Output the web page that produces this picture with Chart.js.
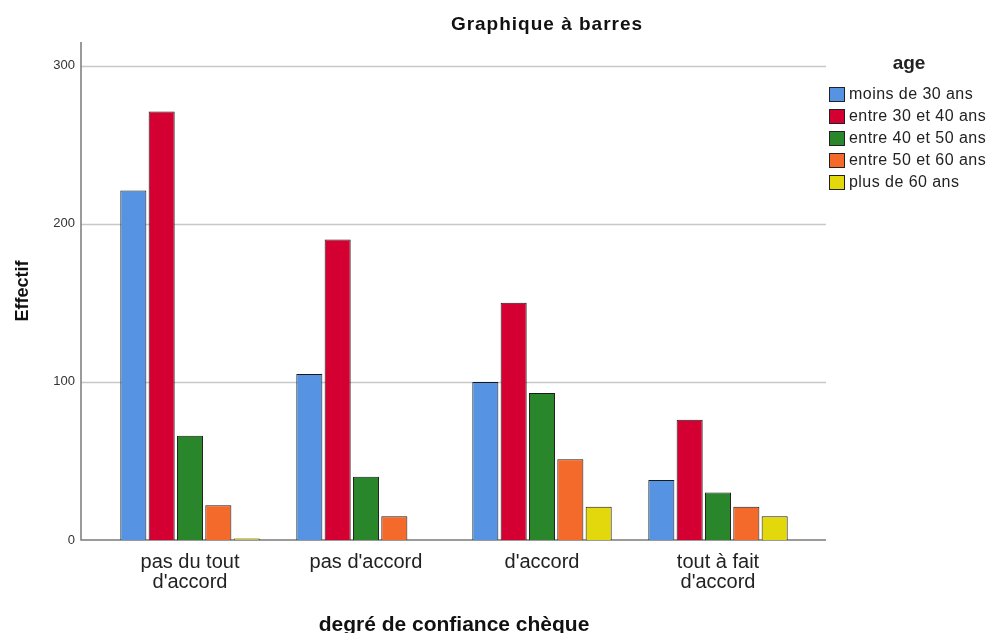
<!DOCTYPE html>
<html>
<head>
<meta charset="utf-8">
<script src="https://cdn.jsdelivr.net/npm/chart.js@4/dist/chart.umd.min.js"></script>
<style>
    body { margin: 0; background: #fff; font-family: "Liberation Sans", Arial, sans-serif; }
    #wrap { position: relative; width: 989px; height: 633px; overflow: hidden; }
    #title { position: absolute; left: 397px; top: 13px; width: 300px; text-align: center; font-weight: bold; font-size: 19px; letter-spacing: 1px; color: #111; }
    #legend { position: absolute; left: 829px; top: 52px; font-size: 16px; letter-spacing: 0.45px; color: #222; }
    #legend .lt { font-weight: bold; font-size: 19px; letter-spacing: 0; text-align: center; width: 160px; margin-bottom: 9px; }
    #legend .item { display: flex; align-items: center; height: 22px; }
    #legend .sw { width: 16px; height: 15px; border: 1px solid #222; margin-right: 4px; box-sizing: border-box; }
</style>
</head>
<body>
<div id="wrap">
    <canvas id="chart" width="989" height="633"></canvas>
    <div id="title">Graphique à barres</div>
    <div id="legend"></div>
</div>
<script>
// categories (x axis)
const categories = [["pas du tout", "d'accord"], "pas d'accord", "d'accord", ["tout à fait", "d'accord"]];
// series names (legend)
const seriesNames = ["moins de 30 ans", "entre 30 et 40 ans", "entre 40 et 50 ans", "entre 50 et 60 ans", "plus de 60 ans"];
const seriesColors = ["#5694E3", "#D50032", "#29862A", "#F46A2B", "#E3D80C"];
// counts per series, one value per category
const moins30 = [221, 105, 100, 38];
const entre30_40 = [271, 190, 150, 76];
const entre40_50 = [66, 40, 93, 30];
const entre50_60 = [22, 15, 51, 21];
const plus60 = [1, 0, 21, 15];
const yTicks = [0, 100, 200, 300];

const seriesValues = [moins30, entre30_40, entre40_50, entre50_60, plus60];

// legend in html
const legendEl = document.getElementById("legend");
legendEl.innerHTML = '<div class="lt">age</div>' + seriesNames.map((n, i) =>
    `<div class="item"><span class="sw" style="background:${seriesColors[i]}"></span>${n}</div>`
).join("");

// axes and gridlines drawn a bit wider than the category area
const axisPlugin = {
    id: "axisLines",
    beforeDatasetsDraw(chart) {
        const ctx = chart.ctx;
        const area = chart.chartArea;
        const y = chart.scales.y;
        const left = area.left - 21, right = area.right + 20;
        ctx.save();
        ctx.lineWidth = 1.5;
        ctx.strokeStyle = "#c8c8c8";
        yTicks.slice(1).forEach(v => {
            const py = Math.round(y.getPixelForValue(v)) + 0.5;
            ctx.beginPath();
            ctx.moveTo(left, py);
            ctx.lineTo(right, py);
            ctx.stroke();
        });
        ctx.strokeStyle = "#7a7a7a";
        ctx.beginPath();
        ctx.moveTo(left, area.top);
        ctx.lineTo(left, area.bottom);
        ctx.lineTo(right, area.bottom);
        ctx.stroke();
        ctx.restore();
    }
};

const ctx = document.getElementById("chart").getContext("2d");
new Chart(ctx, {
    type: "bar",
    data: {
        labels: categories,
        datasets: seriesNames.map((name, i) => ({
            label: name,
            data: seriesValues[i],
            backgroundColor: seriesColors[i],
            borderColor: "#1a1a1a",
            borderWidth: 1,
            categoryPercentage: 0.805,
            barPercentage: 0.92
        }))
    },
    options: {
        responsive: false,
        animation: false,
        layout: { padding: { top: 42, right: 183, left: 0, bottom: 0 } },
        plugins: {
            legend: { display: false },
            tooltip: { enabled: false }
        },
        scales: {
            x: {
                grid: { display: false },
                border: { display: false },
                ticks: {
                    color: "#222",
                    padding: 4,
                    font: { family: "Liberation Sans", size: 20, lineHeight: 1.0 }
                },
                title: {
                    display: true,
                    text: "degré de confiance chèque",
                    color: "#111",
                    font: { family: "Liberation Sans", size: 21, weight: "bold" },
                    padding: { top: 0, bottom: -5 }
                },
                afterFit: s => { s.height = 93; }
            },
            y: {
                min: 0,
                max: 315,
                afterBuildTicks: s => { s.ticks = yTicks.map(v => ({ value: v })); },
                grid: { display: false },
                border: { display: false },
                ticks: {
                    color: "#333",
                    padding: 19,
                    font: { family: "Liberation Sans", size: 13 }
                },
                title: {
                    display: true,
                    text: "Effectif",
                    color: "#111",
                    font: { family: "Liberation Sans", size: 18, weight: "bold" },
                    padding: { top: 12, bottom: 0 }
                },
                afterFit: s => { s.width = 102; }
            }
        }
    },
    plugins: [axisPlugin]
});
</script>
</body>
</html>
